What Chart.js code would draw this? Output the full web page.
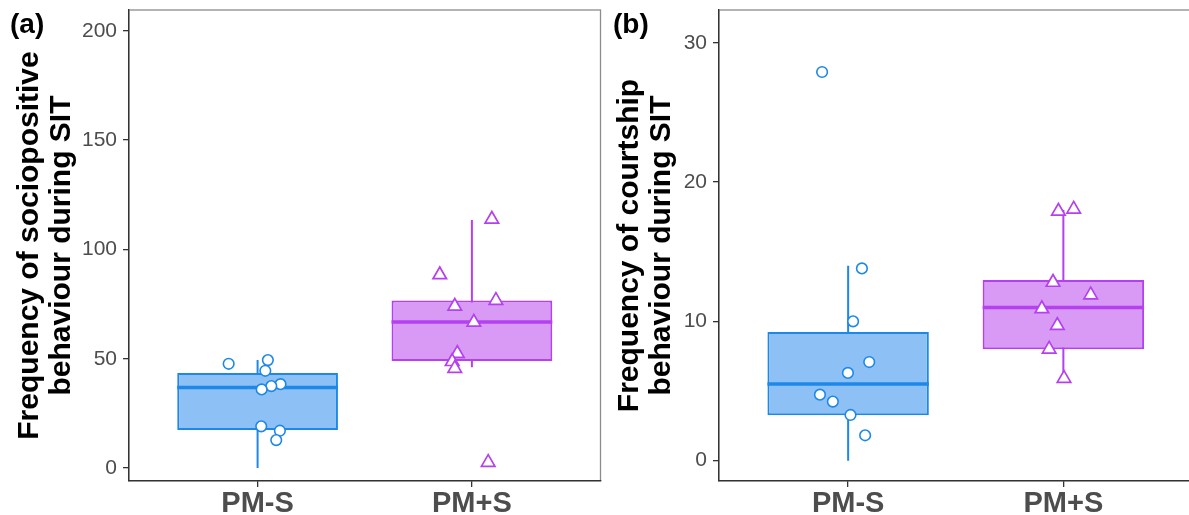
<!DOCTYPE html>
<html>
<head>
<meta charset="utf-8">
<script src="https://cdn.jsdelivr.net/npm/chart.js@4.4.1/dist/chart.umd.min.js"></script>
<style>
  html, body { margin: 0; padding: 0; background: #fff; overflow: hidden; width: 1189px; height: 515px; }
  .panel { position: absolute; top: 0; height: 515px; }
  #pa { left: 0; width: 610px; }
  #pb { left: 605px; width: 597px; }
  .tag { position: absolute; top: 10px; font: bold 28px "Liberation Sans", Arial, sans-serif; line-height: 28px; color: #000; }
</style>
</head>
<body>
<div class="panel" id="pa"><canvas id="chartA"></canvas></div>
<div class="panel" id="pb"><canvas id="chartB"></canvas></div>
<div class="tag" style="left:10px">(a)</div>
<div class="tag" style="left:613px">(b)</div>
<script>
const groups = ["PM-S", "PM+S"];

// (a) sociopositive behaviour
const socMin = [0, 46.1];
const socQ1 = [17.4, 49.0];
const socMed = [36.9, 66.8];
const socQ3 = [43.5, 76.7];
const socMax = [49.4, 113.5];
const socTicks = [0, 50, 100, 150, 200];
const socMinus = [47.7, 49.4, 44.5, 38.4, 37.5, 36.0, 19.1, 17.1, 12.8];
const socMinusJit = [-0.135, 0.048, 0.036, 0.107, 0.064, 0.019, 0.017, 0.104, 0.087];
const socPlus = [113.8, 88.4, 74.0, 76.7, 66.7, 52.4, 48.7, 45.6, 2.6];
const socPlusJit = [0.093, -0.150, -0.080, 0.112, 0.009, -0.068, -0.092, -0.080, 0.076];

// (b) courtship behaviour
const crtMin = [0, 6.0];
const crtQ1 = [3.26, 8.0];
const crtMed = [5.5, 11.0];
const crtQ3 = [9.24, 12.97];
const crtMax = [14.0, 18.0];
const crtTicks = [0, 10, 20, 30];
const crtMinus = [27.9, 13.8, 10.0, 7.08, 6.3, 4.74, 4.24, 3.28, 1.82];
const crtMinusJit = [-0.121, 0.064, 0.023, 0.098, -0.001, -0.131, -0.071, 0.011, 0.079];
const crtPlus = [17.9, 18.05, 12.8, 11.9, 10.9, 9.7, 8.0, 5.9];
const crtPlusJit = [-0.023, 0.048, -0.048, 0.127, -0.100, -0.028, -0.066, 0.003];

const lineCols = ["#1e88e8", "#b540f0"];
const fillCols = ["#8dc0f5", "#d89af5"];

Chart.defaults.font.family = "'Liberation Sans', Arial, sans-serif";

// grey panel frame, axis lines go on top of it
const frame = {
  id: "frame",
  beforeDraw(chart) {
    const { ctx, chartArea: a } = chart;
    ctx.save();
    ctx.strokeStyle = "#8c8c8c";
    ctx.lineWidth = 1.3;
    ctx.strokeRect(a.left, a.top, a.right - a.left, a.bottom - a.top);
    ctx.restore();
  }
};

function makePanel(id, p) {
  const datasets = [];
  // jittered points
  datasets.push({
    type: "scatter",
    data: p.minus.map((v, i) => ({ x: 1 + p.minusJit[i], y: v })),
    pointStyle: "circle",
    pointRadius: 5.3,
    pointBackgroundColor: "#fff",
    pointBorderColor: lineCols[0],
    pointBorderWidth: 1.6,
    order: 0
  });
  datasets.push({
    type: "scatter",
    data: p.plus.map((v, i) => ({ x: 2 + p.plusJit[i], y: v })),
    pointStyle: "triangle",
    pointRadius: 7.8,
    pointBackgroundColor: "#fff",
    pointBorderColor: lineCols[1],
    pointBorderWidth: 1.7,
    order: 0
  });
  groups.forEach((g, i) => {
    // median
    datasets.push({
      type: "line",
      data: [{ x: i + 1 - 0.375, y: p.med[i] }, { x: i + 1 + 0.375, y: p.med[i] }],
      borderColor: lineCols[i],
      borderWidth: 3.5,
      pointRadius: 0,
      order: 1
    });
    // whisker
    datasets.push({
      type: "line",
      data: [{ x: i + 1, y: p.min[i] }, { x: i + 1, y: p.max[i] }],
      borderColor: lineCols[i],
      borderWidth: 2,
      pointRadius: 0,
      order: 3
    });
  });
  // boxes
  datasets.push({
    type: "bar",
    data: groups.map((g, i) => ({ x: i + 1, y: [p.q1[i], p.q3[i]] })),
    backgroundColor: fillCols,
    borderColor: lineCols,
    borderWidth: 2,
    borderSkipped: false,
    categoryPercentage: 1,
    barPercentage: 0.75,
    order: 2
  });

  return new Chart(document.getElementById(id), {
    type: "bar",
    data: { datasets },
    plugins: [frame],
    options: {
      responsive: true,
      maintainAspectRatio: false,
      animation: false,
      layout: { padding: { top: 10, right: p.padRight, left: 0, bottom: 0 } },
      plugins: { legend: { display: false }, tooltip: { enabled: false } },
      scales: {
        x: {
          type: "linear",
          min: 0.4,
          max: 2.6,
          offset: false,
          afterBuildTicks: s => { s.ticks = groups.map((g, i) => ({ value: i + 1 })); },
          afterFit: s => { s.height = 34; s.paddingLeft = 0; s.paddingRight = 0; },
          grid: { offset: false, drawOnChartArea: false, drawTicks: true, tickLength: 6, color: "#333", lineWidth: 1.3 },
          border: { display: true, color: "#333", width: 1.3 },
          ticks: {
            padding: 0,
            color: "#4d4d4d",
            font: { size: 29, weight: "bold" },
            callback: v => groups[v - 1]
          }
        },
        y: {
          type: "linear",
          min: p.yMin,
          max: p.yMax,
          afterBuildTicks: s => { s.ticks = p.ticks.map(v => ({ value: v })); },
          afterFit: s => { s.width = p.axisW; s.paddingTop = 0; s.paddingBottom = 0; },
          grid: { drawOnChartArea: false, drawTicks: true, tickLength: 6, color: "#333", lineWidth: 1.3 },
          border: { display: true, color: "#333", width: 1.3 },
          ticks: { padding: 6, color: "#4d4d4d", font: { size: 21 } },
          title: {
            display: true,
            text: p.title,
            color: "#000",
            font: { size: 30, weight: "bold", lineHeight: 1.07 },
            padding: { top: p.titlePad, bottom: 0 }
          }
        }
      }
    }
  });
}

makePanel("chartA", {
  min: socMin, q1: socQ1, med: socMed, q3: socQ3, max: socMax,
  minus: socMinus, minusJit: socMinusJit, plus: socPlus, plusJit: socPlusJit,
  ticks: socTicks, yMin: -5.9, yMax: 209.5,
  title: ["Frequency of sociopositive", "behaviour during SIT"],
  axisW: 129, titlePad: 13.5, padRight: 3
});

makePanel("chartB", {
  min: crtMin, q1: crtQ1, med: crtMed, q3: crtQ3, max: crtMax,
  minus: crtMinus, minusJit: crtMinusJit, plus: crtPlus, plusJit: crtPlusJit,
  ticks: crtTicks, yMin: -1.46, yMax: 32.35,
  title: ["Frequency of courtship", "behaviour during SIT"],
  axisW: 114, titlePad: 8.5, padRight: 4.5
});
</script>
</body>
</html>
